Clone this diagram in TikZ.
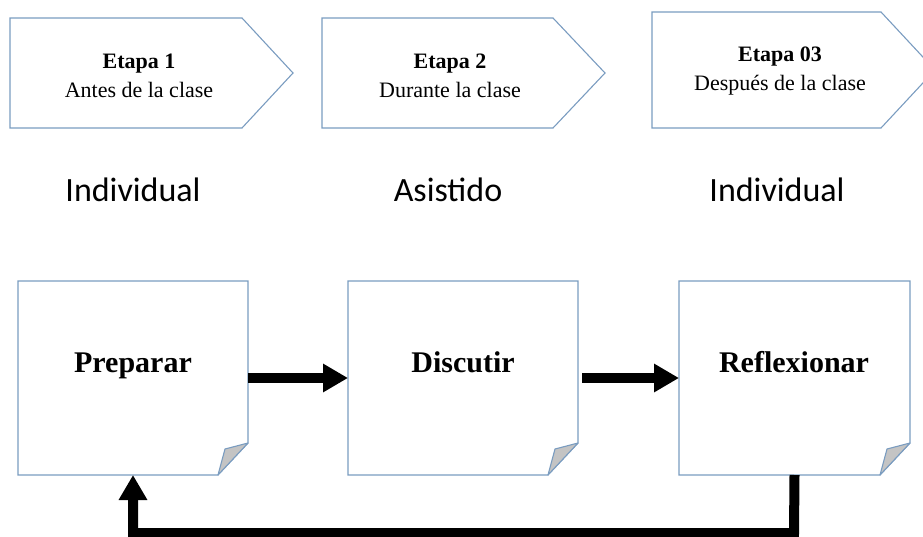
\documentclass[tikz,border=0pt]{standalone}
\usepackage{fontspec}
\setmainfont{Liberation Serif}
\newfontfamily\calib{Carlito}
\usetikzlibrary{arrows.meta}
\definecolor{edgeblue}{RGB}{122,156,192}
\definecolor{foldgray}{RGB}{196,196,196}
\tikzset{
  frame/.style={draw=edgeblue, line width=1.1pt, line join=miter},
  area/.style={draw=none, inner sep=0pt, outer sep=0pt},
  stagetext/.style={font=\fontsize{22}{29}\selectfont, align=center},
  modetext/.style={font=\calib\fontsize{34}{40}\selectfont},
  boxtext/.style={font=\bfseries\fontsize{30}{36}\selectfont, anchor=base},
  flow/.style={line width=10pt, -{Triangle[length=25pt,width=27pt]}},
  fold/.style={draw=edgeblue, line width=1.1pt, fill=foldgray, line join=round}
}
\begin{document}
\begin{tikzpicture}[x=1pt,y=-1pt]
\useasboundingbox (0,0) rectangle (923,537);
\clip (0,0) rectangle (923,537);
% stage pentagons
\draw[frame] (10,18) -- (242,18) -- (293,73) -- (242,128) -- (10,128) -- cycle;
\draw[frame] (322,18) -- (553,18) -- (605,73) -- (553,128) -- (322,128) -- cycle;
\draw[frame] (652,12) -- (881,12) -- (935,70) -- (881,128) -- (652,128) -- cycle;
\node[stagetext] (s1) at (139,76) {\textbf{Etapa 1}\\Antes de la clase};
\node[stagetext] (s2) at (450,76) {\textbf{Etapa 2}\\Durante la clase};
\node[stagetext] (s3) at (780,71) {\textbf{Etapa 03}\\Después de la clase};
% modes
\node[modetext] (m1) at (133,190) {Individual};
\node[modetext] (m2) at (448,190) {Asistido};
\node[modetext] (m3) at (777,190) {Individual};
% boxes (areas)
\node[area, minimum width=230pt, minimum height=194pt] (b1) at (133,378) {};
\node[area, minimum width=230pt, minimum height=194pt] (b2) at (463,378) {};
\node[area, minimum width=231pt, minimum height=194pt] (b3) at (794.5,378) {};
% box outlines with folded corner
\foreach \b in {b1,b2,b3}{
  \draw[frame] ([yshift=32pt]\b.south east) -- (\b.north east) -- (\b.north west) -- (\b.south west) -- ([xshift=-30pt]\b.south east) -- cycle;
  \draw[fold] ([yshift=32pt]\b.south east) -- ([xshift=-23pt,yshift=26pt]\b.south east) -- ([xshift=-30pt]\b.south east) -- cycle;
}
\node[boxtext] (t1) at (133,372) {Preparar};
\node[boxtext] (t2) at (463,372) {Discutir};
\node[boxtext] (t3) at (794,372) {Reflexionar};
% connectors
\draw[flow] (b1.east) -- (b2.west);
\draw[flow] ([xshift=4pt]b2.east) -- (b3.west);
\coordinate (fb) at (794,533);
\draw[flow] (b3.south) -- (fb) -| (b1.south);
\end{tikzpicture}
\end{document}
